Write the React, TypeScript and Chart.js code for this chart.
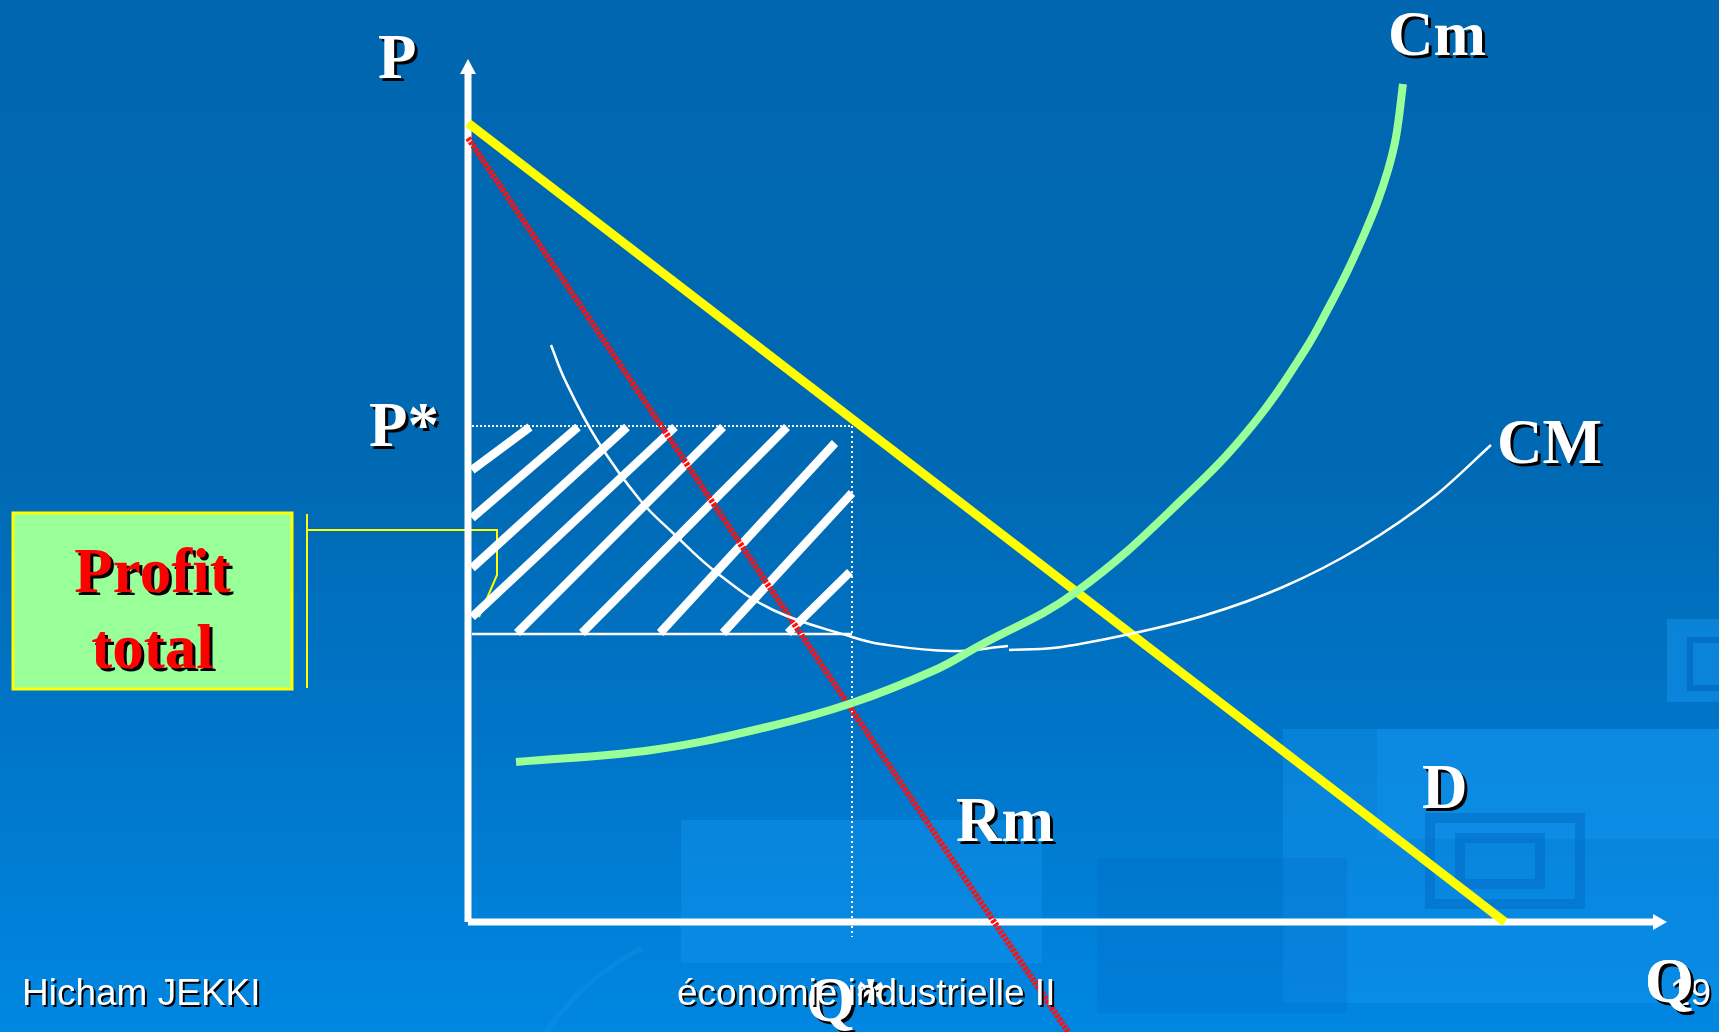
import React, { useEffect, useRef } from "react";
import { Chart, registerables } from "chart.js";

Chart.register(...registerables);

const W = 1719;
const H = 1032;

// data-space extent (Q horizontally, P vertically)
const X_MIN = -46.8;
const X_MAX = 125.1;
const Y_MIN = -11.0;
const Y_MAX = 92.2;

// Axes
const yAxisQ = [0, 0];
const yAxisP = [0, 84.8];
const xAxisQ = [0, 118.5];
const xAxisP = [0, 0];
const yArrowTipP = 86.3;
const xArrowTipQ = 119.9;

// Demand (D)
const demandQ = [0, 103.7];
const demandP = [79.9, 0];

// Marginal revenue (Rm)
const rmQ = [0, 60.0];
const rmP = [78.4, -11.0];

// Marginal cost (Cm)
const cmQ = [4.8, 18.4, 29.9, 38.4, 46.7, 50.9, 60.8, 72.2, 78.7, 83.7, 86.1, 87.9, 89.5, 90.9, 92.0, 92.8, 93.5];
const cmP = [16.0, 17.2, 19.5, 21.9, 25.2, 27.5, 33.0, 43.0, 50.0, 57.2, 61.5, 65.0, 68.5, 71.9, 75.2, 78.5, 83.8];

// Average cost (CM), drawn in two pieces
const acLeftQ = [8.3, 9.7, 12.9, 17.2, 20.5, 24.9, 30.5, 38.4, 41.2, 48.3, 54.0];
const acLeftP = [57.7, 54.2, 48.2, 42.2, 38.9, 34.9, 31.2, 28.5, 27.8, 27.1, 27.6];
const acRightQ = [54.1, 58.5, 66.2, 73.8, 81.5, 89.1, 96.8, 102.3];
const acRightP = [27.2, 27.4, 28.8, 30.7, 33.5, 37.4, 42.7, 47.7];

// Equilibrium
const qStar = 38.4;
const pStar = 49.6;
const acStar = 28.8;
const rectLeftQ = 0.4;
const qStarBottomP = -1.5;

// Hatch strokes of the profit rectangle
const hatchQ1 = [0.4, 0.4, 0.4, 0.4, 4.9, 11.4, 19.2, 25.5, 32.0];
const hatchP1 = [45.2, 40.4, 35.4, 30.5, 28.9, 28.9, 28.9, 28.9, 28.9];
const hatchQ2 = [6.2, 11.0, 15.9, 20.7, 25.5, 31.9, 36.7, 38.4, 38.2];
const hatchP2 = [49.5, 49.5, 49.5, 49.5, 49.5, 49.5, 47.9, 42.9, 35.0];

// Callout bracket and box
const bracketQ = [-16.1, 2.9, 2.9, 1.1];
const bracketP = [39.2, 39.2, 34.7, 30.5];
const bracketBarQ = [-16.1, -16.1];
const bracketBarP = [40.8, 23.4];
const boxQ = [-45.5, -17.6];
const boxP = [40.9, 23.3];
const boxText = ["Profit", "total"];
const boxTextP = [33.0, 25.4];

// Labels: text, Q (left), P (baseline)
const labelText = ["P", "P*", "Cm", "CM", "D", "Rm", "Q*", "Q"];
const labelQ = [-9.0, -9.9, 92.0, 102.9, 95.4, 48.8, 33.8, 117.7];
const labelP = [84.4, 47.6, 86.7, 45.9, 11.4, 8.1, -9.9, -8.0];

// Footer
const footerText = ["Hicham JEKKI", "économie industrielle II"];
const footerQ = [-44.6, 20.9];
const footerP = -8.3;
const slideNumber = "19";
const slideNumberQ = 124.3;

const pts = (xs: number[], ys: number[]) => xs.map((x, i) => ({ x, y: ys[i] }));

const SERIF = '"Liberation Serif", "Times New Roman", serif';
const SANS = '"Liberation Sans", Arial, sans-serif';

function line(data: { x: number; y: number }[], color: string, width: number, order: number, extra: any = {}) {
  return {
    data,
    showLine: true,
    borderColor: color,
    backgroundColor: color,
    borderWidth: width,
    pointRadius: 0,
    pointHoverRadius: 0,
    fill: false,
    tension: 0,
    borderCapStyle: "butt",
    order,
    ...extra,
  };
}

function shadowText(ctx: CanvasRenderingContext2D, text: string, x: number, y: number, font: string, color: string, off: number, align: CanvasTextAlign = "left") {
  ctx.font = font;
  ctx.textAlign = align;
  ctx.textBaseline = "alphabetic";
  ctx.fillStyle = "#000000";
  ctx.fillText(text, x + off, y + off);
  ctx.fillStyle = color;
  ctx.fillText(text, x, y);
}

const backgroundPlugin = {
  id: "slideBackground",
  beforeDraw(chart: any) {
    const ctx: CanvasRenderingContext2D = chart.ctx;
    ctx.save();
    const g = ctx.createLinearGradient(0, 0, 0, H);
    g.addColorStop(0, "#0066AF");
    g.addColorStop(0.45, "#0069B3");
    g.addColorStop(0.75, "#0077CB");
    g.addColorStop(1, "#0087E2");
    ctx.fillStyle = g;
    ctx.fillRect(0, 0, W, H);
    // faint decorative blocks
    ctx.fillStyle = "rgba(20,150,240,0.40)";
    ctx.fillRect(681, 820, 361, 143);
    ctx.fillRect(1283, 729, 436, 274);
    ctx.fillRect(1377, 729, 342, 110);
    ctx.fillStyle = "rgba(0,100,190,0.22)";
    ctx.fillRect(1097, 858, 250, 155);
    ctx.strokeStyle = "rgba(0,105,195,0.5)";
    ctx.lineWidth = 10;
    ctx.strokeRect(1430, 818, 150, 86);
    ctx.strokeRect(1460, 838, 80, 46);
    ctx.fillStyle = "rgba(20,150,240,0.5)";
    ctx.fillRect(1667, 619, 52, 83);
    ctx.strokeStyle = "rgba(0,100,190,0.6)";
    ctx.lineWidth = 6;
    ctx.strokeRect(1690, 640, 40, 48);
    ctx.strokeStyle = "rgba(30,150,235,0.25)";
    ctx.lineWidth = 5;
    ctx.beginPath();
    ctx.arc(760, 1180, 260, Math.PI * 1.05, Math.PI * 1.35);
    ctx.stroke();
    ctx.restore();
  },
};

const overlayPlugin = {
  id: "overlay",
  afterDatasetsDraw(chart: any) {
    const ctx: CanvasRenderingContext2D = chart.ctx;
    const xs = chart.scales.x;
    const ys = chart.scales.y;
    const px = (v: number) => xs.getPixelForValue(v);
    const py = (v: number) => ys.getPixelForValue(v);
    ctx.save();

    // axis arrowheads
    ctx.fillStyle = "#FFFFFF";
    const ox = px(0);
    const oy = py(0);
    const yTop = py(yAxisP[1]);
    ctx.beginPath();
    ctx.moveTo(ox, py(yArrowTipP));
    ctx.lineTo(ox - 8, yTop);
    ctx.lineTo(ox + 8, yTop);
    ctx.closePath();
    ctx.fill();
    const xEnd = px(xAxisQ[1]);
    ctx.beginPath();
    ctx.moveTo(px(xArrowTipQ), oy);
    ctx.lineTo(xEnd, oy - 8);
    ctx.lineTo(xEnd, oy + 8);
    ctx.closePath();
    ctx.fill();

    // callout box
    const bx0 = px(boxQ[0]);
    const bx1 = px(boxQ[1]);
    const by0 = py(boxP[0]);
    const by1 = py(boxP[1]);
    ctx.fillStyle = "#99FF99";
    ctx.fillRect(bx0, by0, bx1 - bx0, by1 - by0);
    ctx.strokeStyle = "#FFFF00";
    ctx.lineWidth = 3;
    ctx.strokeRect(bx0, by0, bx1 - bx0, by1 - by0);
    const cx = (bx0 + bx1) / 2;
    boxText.forEach((t, i) => {
      shadowText(ctx, t, cx, py(boxTextP[i]), `bold 63px ${SERIF}`, "#FF0000", 3, "center");
    });

    // labels
    labelText.forEach((t, i) => {
      shadowText(ctx, t, px(labelQ[i]), py(labelP[i]), `bold 63px ${SERIF}`, "#FFFFFF", 3);
    });

    // footer
    footerText.forEach((t, i) => {
      shadowText(ctx, t, px(footerQ[i]), py(footerP), `37px ${SANS}`, "#FFFFFF", 2);
    });
    ctx.restore();
  },
  afterDraw(chart: any) {
    const ctx: CanvasRenderingContext2D = chart.ctx;
    const xs = chart.scales.x;
    const ys = chart.scales.y;
    ctx.save();
    // slide number partly hidden behind the Q label
    shadowText(ctx, slideNumber, xs.getPixelForValue(slideNumberQ), ys.getPixelForValue(footerP), `37px ${SANS}`, "#FFFFFF", 2, "right");
    const qi = labelText.length - 1;
    shadowText(ctx, labelText[qi], xs.getPixelForValue(labelQ[qi]), ys.getPixelForValue(labelP[qi]), `bold 63px ${SERIF}`, "#FFFFFF", 3);
    ctx.restore();
  },
};

export default function App() {
  const ref = useRef<HTMLCanvasElement | null>(null);

  useEffect(() => {
    document.body.style.margin = "0";
    document.body.style.background = "#0066AF";
    const canvas = ref.current;
    if (!canvas) return;

    const hatchSets = hatchQ1.map((q, i) =>
      line(pts([q, hatchQ2[i]], [hatchP1[i], hatchP2[i]]), "#FFFFFF", 8.5, 6)
    );

    const datasets: any[] = [
      line(pts(cmQ, cmP), "#99FF99", 8, 1, { tension: 0.4 }),
      line(pts(acLeftQ, acLeftP), "#FFFFFF", 2.5, 2, { tension: 0.4 }),
      line(pts(acRightQ, acRightP), "#FFFFFF", 2.5, 2, { cubicInterpolationMode: "monotone" }),
      line(pts(demandQ, demandP), "#FFFF00", 9, 3),
      line(pts(rmQ, rmP), "#FF1010", 6, 4, { borderDash: [3, 1.4] }),
      ...hatchSets,
      line(pts([rectLeftQ, qStar], [acStar, acStar]), "#FFFFFF", 2.5, 7),
      line(pts([rectLeftQ, qStar], [pStar, pStar]), "#FFFFFF", 2, 7, { borderDash: [2, 2] }),
      line(pts([qStar, qStar], [pStar, qStarBottomP]), "#FFFFFF", 2, 7, { borderDash: [2, 3] }),
      line(pts(yAxisQ, yAxisP), "#FFFFFF", 7, 8),
      line(pts(xAxisQ, xAxisP), "#FFFFFF", 7, 8),
      line(pts(bracketQ, bracketP), "#FFFF00", 2, 9),
      line(pts(bracketBarQ, bracketBarP), "#FFFF00", 2, 9),
    ];

    const chart = new Chart(canvas, {
      type: "scatter",
      data: { datasets },
      options: {
        responsive: false,
        animation: false,
        devicePixelRatio: 1,
        events: [],
        layout: { padding: 0 },
        plugins: { legend: { display: false }, tooltip: { enabled: false } },
        scales: {
          x: { type: "linear", min: X_MIN, max: X_MAX, display: false },
          y: { type: "linear", min: Y_MIN, max: Y_MAX, display: false },
        },
      } as any,
      plugins: [backgroundPlugin, overlayPlugin],
    });
    return () => chart.destroy();
  }, []);

  return (
    <div style={{ width: W, height: H, overflow: "hidden" }}>
      <canvas ref={ref} width={W} height={H} style={{ display: "block", width: W, height: H }} />
    </div>
  );
}
